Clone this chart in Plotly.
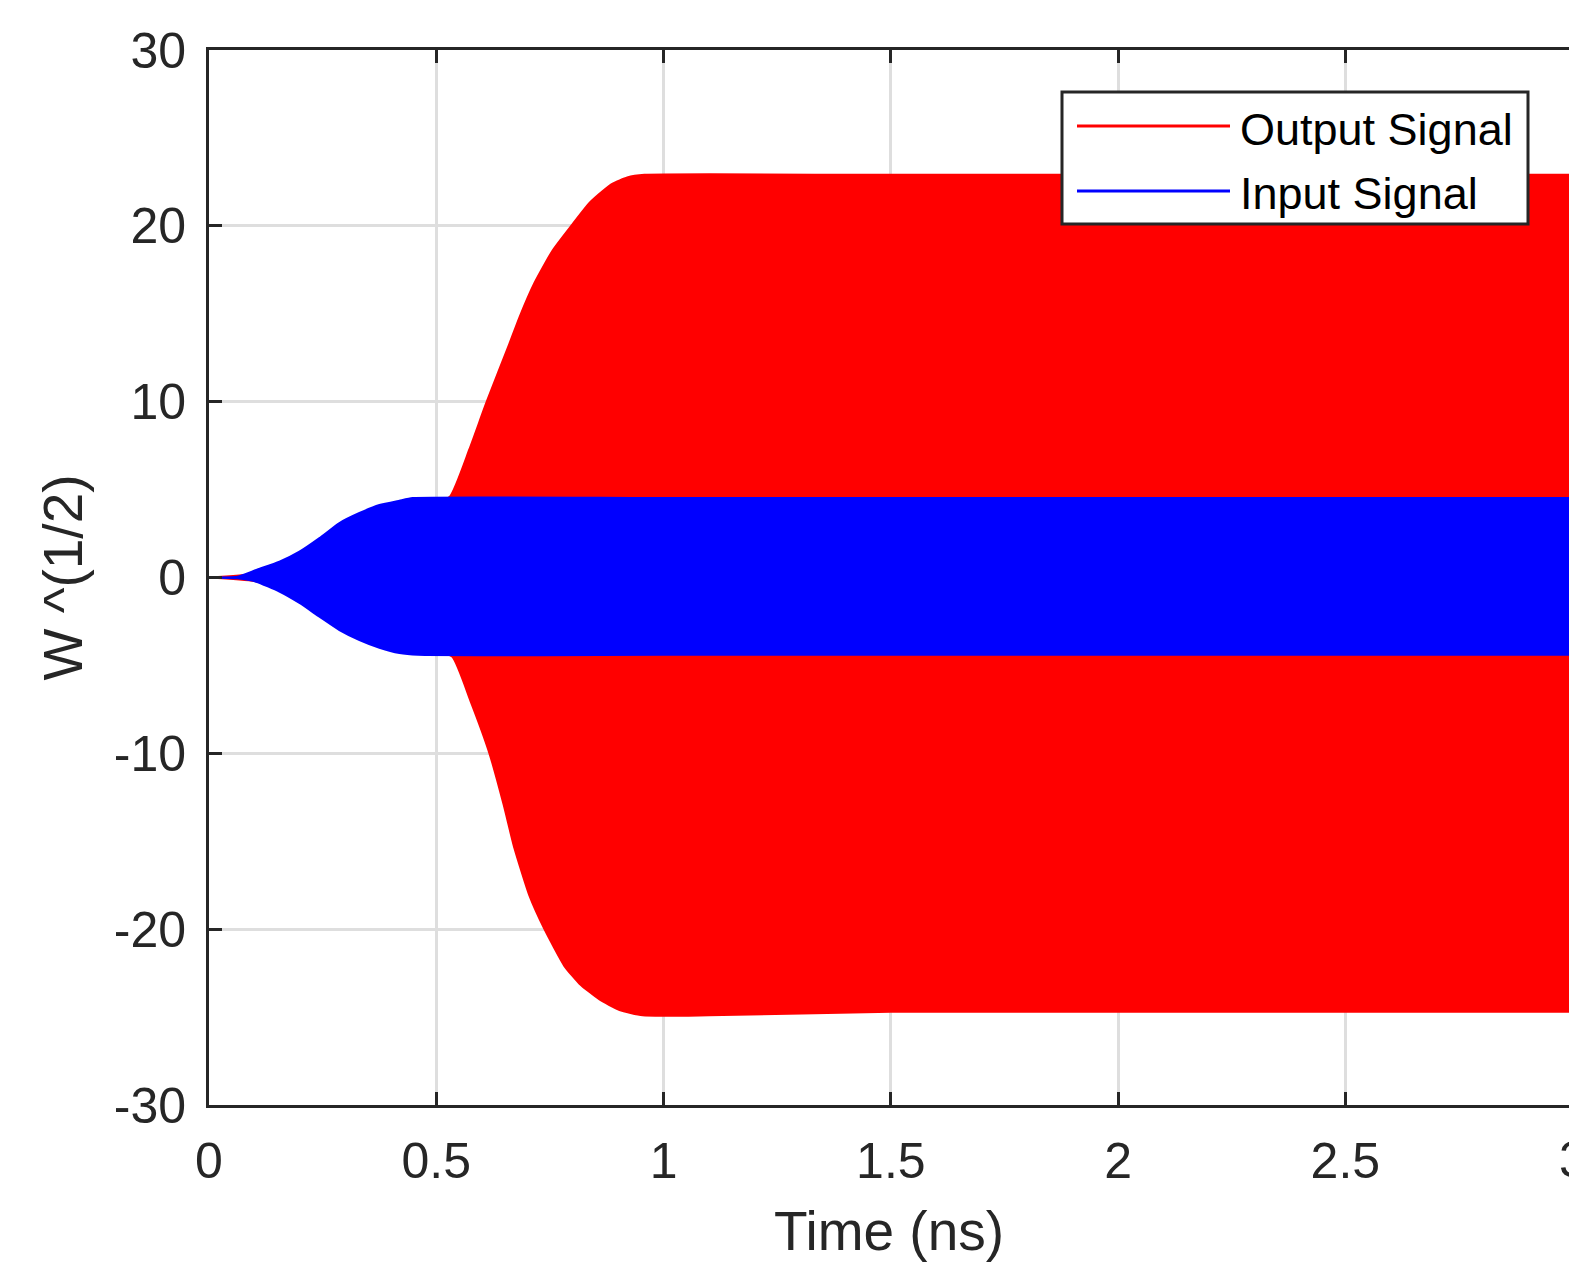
import plotly.graph_objects as go

# ---- envelope of the output signal, W^(1/2) against time in ns ----
out_upper_t = [0.0, 0.1, 0.2, 0.3, 0.4, 0.48, 0.53, 0.573, 0.611, 0.661, 0.683,
               0.716, 0.756, 0.797, 0.837, 0.865, 0.888, 0.92, 0.958, 1.5, 2.0, 2.5, 3.0]
out_upper = [0.0, 0.2, 0.8, 1.8, 3.0, 4.0, 4.6, 7.3, 10.0, 13.3, 14.8,
             16.75, 18.6, 20.0, 21.3, 21.95, 22.4, 22.75, 22.9, 22.9, 22.9, 22.9, 22.9]

out_lower_t = [0.0, 0.1, 0.2, 0.3, 0.4, 0.48, 0.535, 0.575, 0.617, 0.648, 0.672, 0.705,
               0.738, 0.782, 0.815, 0.859, 0.903, 0.954, 1.1, 1.5, 2.0, 2.5, 3.0]
out_lower = [0.0, -0.2, -0.8, -1.8, -3.0, -4.0, -4.5, -7.0, -10.0, -12.9, -15.4, -18.1,
             -20.0, -22.1, -23.1, -24.0, -24.6, -24.9, -24.9, -24.7, -24.7, -24.7, -24.7]

# ---- envelope of the input signal ----
in_upper_t = [0.0, 0.063, 0.104, 0.155, 0.199, 0.243, 0.287, 0.331, 0.375,
              0.419, 0.448, 1.0, 2.0, 3.0]
in_upper = [0.0, 0.05, 0.43, 0.9, 1.47, 2.24, 3.1, 3.67, 4.12,
            4.37, 4.52, 4.52, 4.52, 4.52]

in_lower_t = [0.0, 0.063, 0.104, 0.155, 0.199, 0.243, 0.287, 0.331, 0.375,
              0.419, 0.46, 1.0, 2.0, 3.0]
in_lower = [0.0, -0.05, -0.24, -0.8, -1.45, -2.23, -2.99, -3.56, -4.0,
            -4.3, -4.4, -4.4, -4.4, -4.4]

x_ticks = [0, 0.5, 1, 1.5, 2, 2.5, 3]
x_tick_text = ["0", "0.5", "1", "1.5", "2", "2.5", "3"]
y_ticks = [-30, -20, -10, 0, 10, 20, 30]
y_tick_text = ["-30", "-20", "-10", "0", "10", "20", "30"]

series_names = ["Output Signal", "Input Signal"]
series_colors = ["#ff0000", "#0000ff"]

W, H = 1569, 1262
ML, MT, MB, MR = 209, 50, 157, 0
X_MAX = 2.992
INK = "#262626"
FONT = "Liberation Sans, Arial, sans-serif"

fig = go.Figure()
# each signal is shown as the band between its lower and upper envelope
for (th, vh, tl, vl), color in zip(
    [(out_upper_t, out_upper, out_lower_t, out_lower),
     (in_upper_t, in_upper, in_lower_t, in_lower)],
    series_colors,
):
    edge = dict(color=color, width=2, shape="spline", smoothing=0.5)
    fig.add_trace(go.Scatter(x=tl, y=vl, mode="lines", line=edge,
                             showlegend=False, hoverinfo="skip"))
    fig.add_trace(go.Scatter(x=th, y=vh, mode="lines", line=edge,
                             fill="tonexty", fillcolor=color,
                             showlegend=False, hoverinfo="skip"))

axis_common = dict(
    showline=True, linecolor=INK, linewidth=3,
    ticks="inside", ticklen=13, tickwidth=3, tickcolor=INK,
    showgrid=True, gridcolor="#dedede", gridwidth=3,
    zeroline=False,
    tickfont=dict(family=FONT, size=50, color=INK),
)

fig.update_layout(
    width=W, height=H,
    margin=dict(l=ML, r=MR, t=MT, b=MB, pad=0),
    paper_bgcolor="white", plot_bgcolor="white",
    showlegend=False,
    xaxis=dict(
        range=[0, X_MAX], tickvals=x_ticks, ticktext=x_tick_text,
        mirror="ticks", ticklabelstandoff=10,
        title=dict(text="Time (ns)", font=dict(family=FONT, size=55, color=INK),
                   standoff=24),
        **axis_common,
    ),
    yaxis=dict(
        range=[-30, 30], tickvals=y_ticks, ticktext=y_tick_text,
        mirror=False, ticklabelstandoff=10,
        title=dict(text="W ^(1/2)", font=dict(family=FONT, size=55, color=INK),
                   standoff=14),
        **axis_common,
    ),
)

# pixel -> paper coordinate helpers for the legend box
PW, PH = W - ML - MR, H - MT - MB


def px(x):
    return (x - ML) / PW


def py(y):
    return (H - MB - y) / PH


# legend box drawn with long sample lines
fig.add_shape(type="rect", xref="paper", yref="paper",
              x0=px(1062), x1=px(1528), y0=py(224), y1=py(92),
              line=dict(color=INK, width=3), fillcolor="white", layer="above")
for name, color, row_y in zip(series_names, series_colors, [126, 191]):
    fig.add_shape(type="line", xref="paper", yref="paper",
                  x0=px(1077), x1=px(1230), y0=py(row_y), y1=py(row_y),
                  line=dict(color=color, width=3), layer="above")
    fig.add_annotation(xref="paper", yref="paper", x=px(1238), y=py(row_y + 3),
                       xanchor="left", yanchor="middle", showarrow=False,
                       text=name, font=dict(family=FONT, size=45, color="black"))

# last x tick label, sitting on the right edge of the page
fig.add_annotation(xref="paper", yref="paper", x=px(1573), y=py(1160),
                   xanchor="center", yanchor="middle", showarrow=False,
                   text="3", font=dict(family=FONT, size=50, color=INK))

fig.write_html("out.html")
